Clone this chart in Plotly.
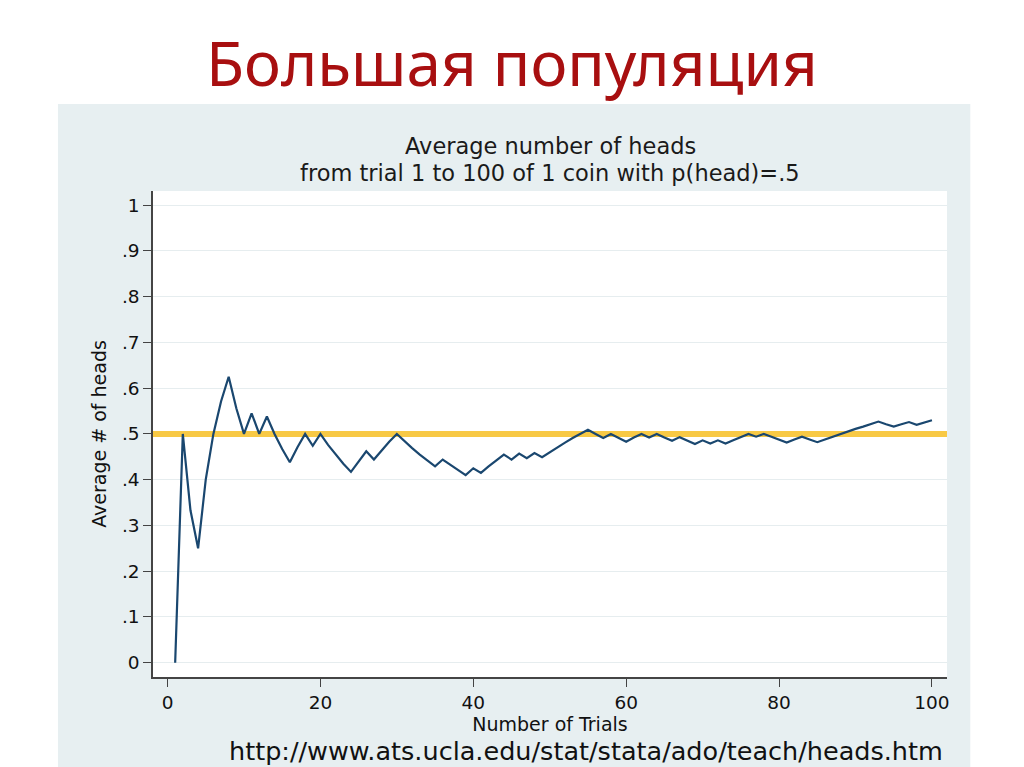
import plotly.graph_objects as go

trials = list(range(1, 101))
avg_heads = [
    0.0, 0.5, 0.333, 0.25, 0.4, 0.5, 0.571, 0.625, 0.556, 0.5,
    0.545, 0.5, 0.538, 0.5, 0.467, 0.438, 0.471, 0.5, 0.474, 0.5,
    0.476, 0.455, 0.435, 0.417, 0.44, 0.462, 0.444, 0.464, 0.483, 0.5,
    0.484, 0.469, 0.455, 0.441, 0.429, 0.444, 0.432, 0.421, 0.41, 0.425,
    0.415, 0.429, 0.442, 0.455, 0.444, 0.457, 0.447, 0.458, 0.449, 0.46,
    0.471, 0.481, 0.491, 0.5, 0.509, 0.5, 0.491, 0.5, 0.492, 0.483,
    0.492, 0.5, 0.492, 0.5, 0.492, 0.485, 0.493, 0.485, 0.478, 0.486,
    0.479, 0.486, 0.479, 0.486, 0.493, 0.5, 0.494, 0.5, 0.494, 0.488,
    0.481, 0.488, 0.494, 0.488, 0.482, 0.488, 0.494, 0.5, 0.506, 0.511,
    0.516, 0.522, 0.527, 0.521, 0.516, 0.521, 0.526, 0.52, 0.525, 0.53,
]
ref_value = 0.5
y_tickvals = [0, 0.1, 0.2, 0.3, 0.4, 0.5, 0.6, 0.7, 0.8, 0.9, 1.0]
y_ticktext = ["0", ".1", ".2", ".3", ".4", ".5", ".6", ".7", ".8", ".9", "1"]
x_tickvals = [0, 20, 40, 60, 80, 100]

slide_title = "Большая популяция"
chart_title_1 = "Average number of heads"
chart_title_2 = "from trial 1 to 100 of 1 coin with p(head)=.5"
source_url = "http://www.ats.ucla.edu/stat/stata/ado/teach/heads.htm"

W, H = 1024, 767
L, R, T, B = 153, 946.7, 191, 677


def px(x):
    return (x - L) / (R - L)


def py(y):
    return (B - y) / (B - T)


fig = go.Figure()

fig.add_trace(go.Scatter(
    x=[-10, 110], y=[ref_value, ref_value], mode="lines",
    line=dict(color="#F8C945", width=6), hoverinfo="skip", showlegend=False,
))
fig.add_trace(go.Scatter(
    x=trials, y=avg_heads, mode="lines",
    line=dict(color="#1a476f", width=2.2), showlegend=False,
))

fig.add_shape(type="rect", xref="paper", yref="paper",
              x0=px(58), x1=px(970), y0=py(767), y1=py(104),
              fillcolor="#E7EFF1", line=dict(width=0), layer="below")
fig.add_shape(type="rect", xref="paper", yref="paper",
              x0=0, x1=1, y0=0, y1=1,
              fillcolor="white", line=dict(width=0), layer="below")

tick_font = dict(family="DejaVu Sans", size=18.5, color="#111111")
title_font = dict(family="DejaVu Sans", size=19, color="#111111")

fig.update_layout(
    width=W, height=H,
    margin=dict(l=L, r=W - R, t=T, b=H - B, pad=0),
    paper_bgcolor="white", plot_bgcolor="rgba(0,0,0,0)",
    xaxis=dict(
        range=[-1.9, 101.97], tickvals=x_tickvals, ticks="outside", ticklen=8,
        tickcolor="#444444", tickwidth=1, showline=True, linecolor="#444444",
        linewidth=1.5, showgrid=False, zeroline=False, tickfont=tick_font,
        title=dict(text="Number of Trials", font=title_font, standoff=6),
    ),
    yaxis=dict(
        range=[-0.0313, 1.031], tickvals=y_tickvals, ticktext=y_ticktext,
        ticks="outside", ticklen=8, tickcolor="#444444", tickwidth=1,
        showline=True, linecolor="#444444", linewidth=1.5,
        showgrid=True, gridcolor="#E6EDEF", gridwidth=1, zeroline=False,
        tickfont=tick_font,
        title=dict(text="Average # of heads", font=title_font, standoff=10),
    ),
    annotations=[
        dict(text=slide_title, xref="paper", yref="paper",
             x=px(512), y=py(62), xanchor="center", yanchor="middle",
             showarrow=False,
             font=dict(family="Noto Sans", size=62, color="#A80F10")),
        dict(text=chart_title_1, xref="paper", yref="paper",
             x=0.5, y=py(146), xanchor="center", yanchor="middle",
             showarrow=False,
             font=dict(family="DejaVu Sans", size=22.5, color="#1a1a1a")),
        dict(text=chart_title_2, xref="paper", yref="paper",
             x=0.5, y=py(173), xanchor="center", yanchor="middle",
             showarrow=False,
             font=dict(family="DejaVu Sans", size=22.5, color="#1a1a1a")),
        dict(text=source_url, xref="paper", yref="paper",
             x=px(945), y=py(751), xanchor="right", yanchor="middle",
             showarrow=False,
             font=dict(family="DejaVu Sans", size=25.5, color="#111111")),
    ],
)

fig.write_html(
    "out.html",
    config={"displayModeBar": False},
    post_script="document.body.style.margin='0px';document.body.style.overflow='hidden';",
)
